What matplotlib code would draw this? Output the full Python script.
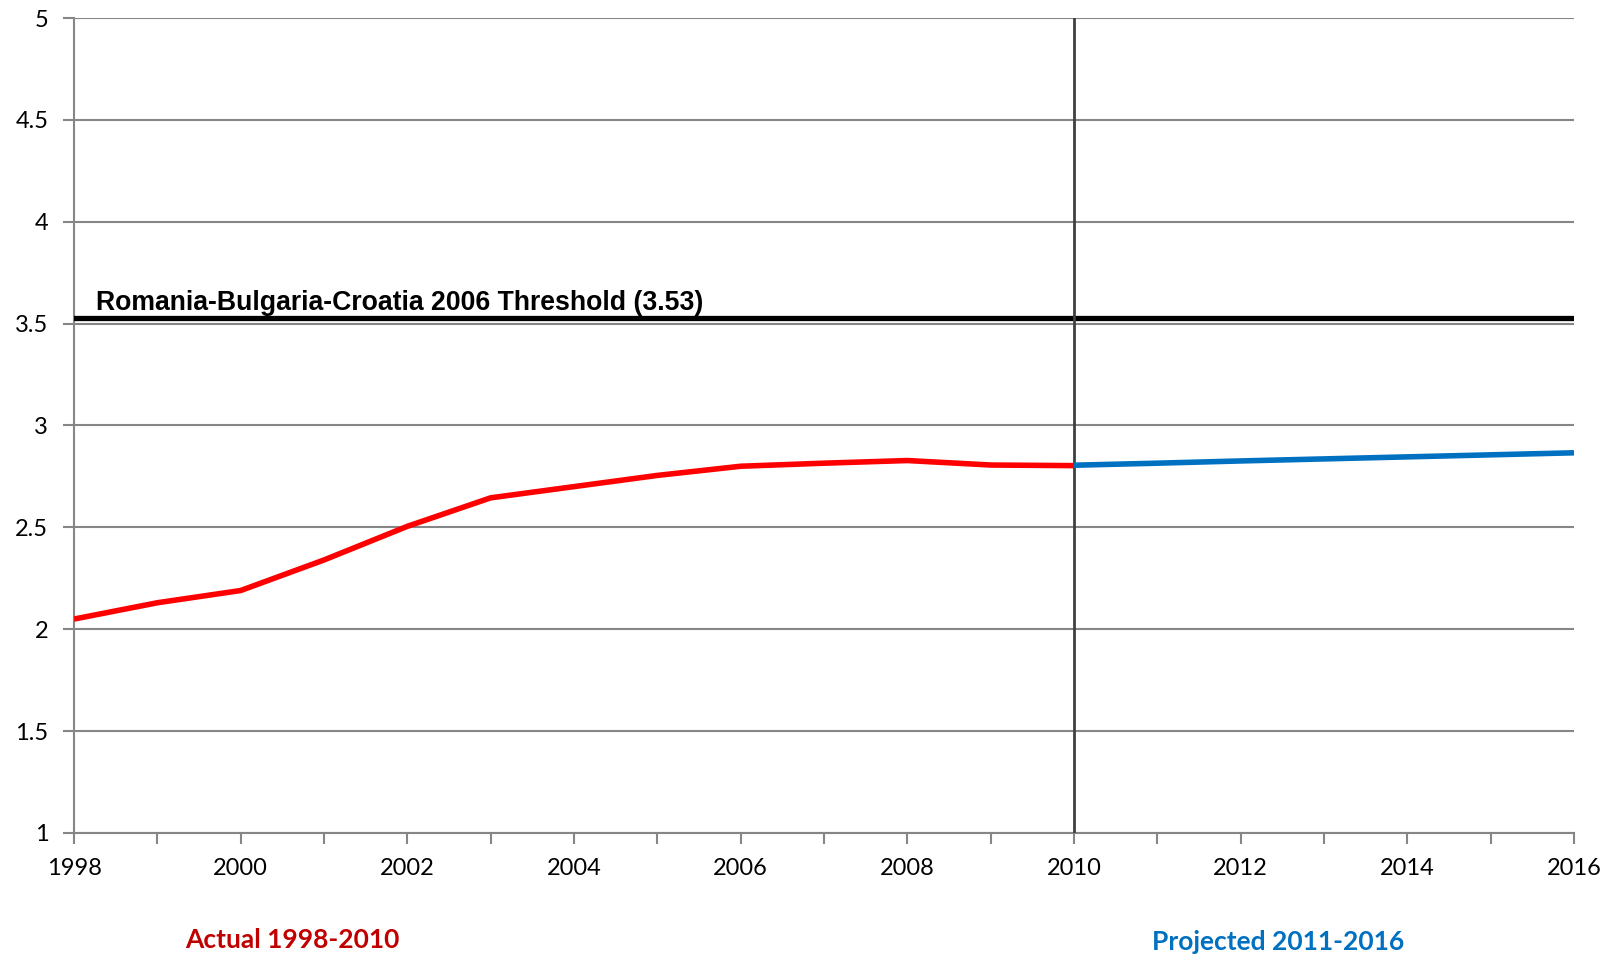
import matplotlib
matplotlib.use("Agg")
import matplotlib.pyplot as plt
from matplotlib.ticker import MultipleLocator

# Series data
actual_years = [1998, 1999, 2000, 2001, 2002, 2003, 2004, 2005, 2006, 2007, 2008, 2009, 2010]
actual_values = [2.05, 2.13, 2.19, 2.34, 2.505, 2.645, 2.70, 2.755, 2.80, 2.815, 2.828, 2.806, 2.803]

projected_years = [2010, 2011, 2012, 2013, 2014, 2015, 2016]
projected_values = [2.805, 2.815, 2.826, 2.836, 2.846, 2.856, 2.866]

threshold = 3.53
threshold_label = "Romania-Bulgaria-Croatia 2006 Threshold (3.53)"
split_year = 2010

y_ticks = [1, 1.5, 2, 2.5, 3, 3.5, 4, 4.5, 5]
y_tick_labels = ["1", "1.5", "2", "2.5", "3", "3.5", "4", "4.5", "5"]
x_major = list(range(1998, 2017, 2))

GRID = "#868686"
RED = "#FF0000"
BLUE = "#0070C0"
DARK_RED = "#C00000"

fig = plt.figure(figsize=(16.12, 9.58), dpi=100)
ax = fig.add_axes([0.0459, 0.1305, 0.9305, 0.8507])

ax.set_xlim(1998, 2016)
ax.set_ylim(1, 5)

# Horizontal gridlines
ax.set_yticks(y_ticks)
ax.set_yticklabels(y_tick_labels)
ax.yaxis.grid(True, color=GRID, linewidth=1.5)
ax.set_axisbelow(True)

ax.set_xticks(x_major)
ax.set_xticklabels([str(y) for y in x_major])
ax.xaxis.set_minor_locator(MultipleLocator(1))

for side in ("top", "right"):
    ax.spines[side].set_visible(False)
for side in ("left", "bottom"):
    ax.spines[side].set_color(GRID)
    ax.spines[side].set_linewidth(1.5)

ax.tick_params(axis="y", which="both", direction="out", length=8, width=1.5,
               color=GRID, pad=10.5)
ax.tick_params(axis="x", which="both", direction="out", length=8, width=1.5,
               color=GRID, pad=10)
for lbl in ax.get_xticklabels() + ax.get_yticklabels():
    lbl.set_fontfamily("Lato")
    lbl.set_fontsize(17)
    lbl.set_color("black")

# Threshold line and its label
ax.axhline(threshold, color="black", linewidth=3.8, zorder=3)
ax.text(1998.27, threshold + 0.008, threshold_label, fontfamily="Liberation Sans",
        fontweight="bold", fontsize=19.2, color="black", va="bottom", ha="left", zorder=4)

# Split between actual and projected
ax.axvline(split_year, color="#404040", linewidth=2, zorder=3)

# Series lines
ax.plot(actual_years, actual_values, color=RED, linewidth=4, solid_capstyle="butt", zorder=5)
ax.plot(projected_years, projected_values, color=BLUE, linewidth=4, solid_capstyle="butt", zorder=5)

# Period captions
fig.text(292 / 1612, 1 - 940 / 958, "Actual 1998-2010", color=DARK_RED, fontfamily="Lato",
         fontweight="bold", fontsize=19, ha="center", va="center")
fig.text(1278 / 1612, 1 - 942 / 958, "Projected 2011-2016", color=BLUE, fontfamily="Lato",
         fontweight="bold", fontsize=19, ha="center", va="center")

fig.savefig("out.png", dpi=100, facecolor="white")
